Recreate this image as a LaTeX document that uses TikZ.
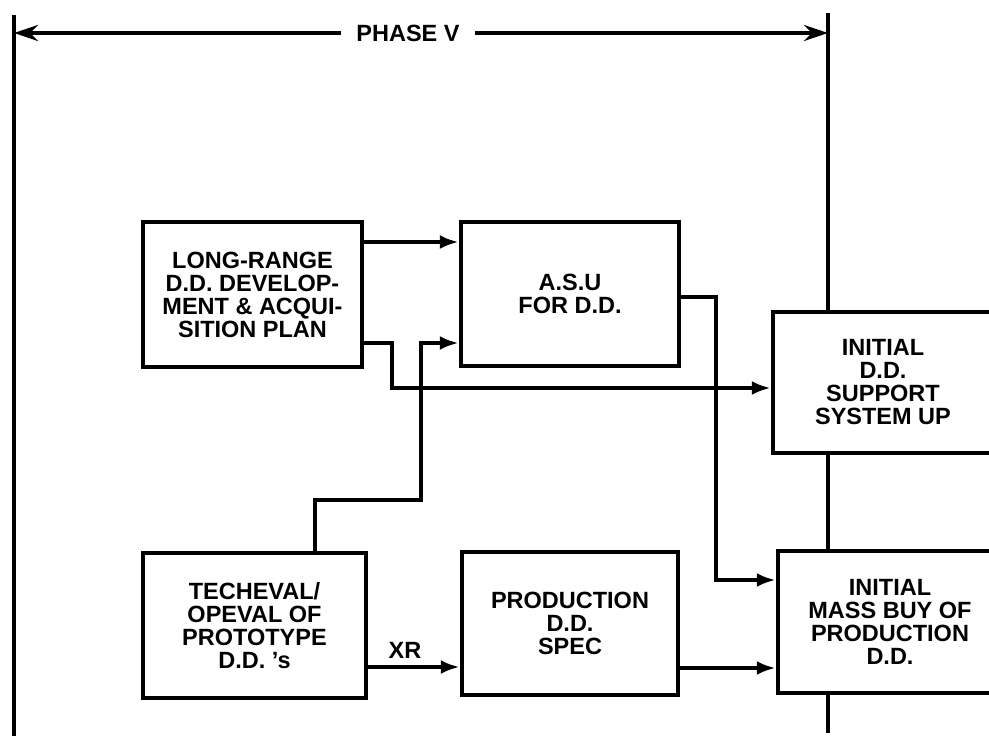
\documentclass[tikz,border=0pt]{standalone}
\usepackage{fontspec}
\setmainfont{Liberation Sans}
\usetikzlibrary{arrows.meta}
\begin{document}
\begin{tikzpicture}[x=1pt,y=-1pt,
  box/.style={draw, line width=4.5pt, fill=white, align=center, inner sep=0pt,
    font=\fontsize{23.5}{23}\selectfont\bfseries},
  lbl/.style={inner sep=0pt, font=\fontsize{23.5}{23}\selectfont\bfseries},
  conn/.style={line width=4.5pt, line join=miter},
  arr/.style={conn, -{Latex[length=19pt,width=14pt]}},
  parr/.style={line width=4pt, -{Stealth[length=24pt,width=16pt]}},
  bar/.style={line width=4.5pt}
]
\useasboundingbox (0,0) rectangle (989,736);
\clip (0,0) rectangle (989,736);

% phase boundaries
\coordinate (ltop) at (14,15);
\coordinate (lbot) at (14,740);
\coordinate (rtop) at (828,13);
\coordinate (rbot) at (828,733);
\draw[bar] (ltop) -- (lbot);
\draw[bar] (rtop) -- (rbot);

\node[lbl, inner xsep=15pt] (phase) at (408,33) {PHASE V};
\draw[parr] (phase.west) -- (ltop |- phase.west);
\draw[parr] (phase.east) -- (rtop |- phase.east);

% boxes
\node[box, minimum width=219pt, minimum height=145pt] (lr) at (252.5,294.5)
  {LONG-RANGE\\D.D. DEVELOP-\\MENT \& ACQUI-\\SITION PLAN};
\node[box, minimum width=218pt, minimum height=144pt] (asu) at (570,294)
  {A.S.U\\FOR D.D.};
\node[box, minimum width=220pt, minimum height=141pt] (sup) at (883,382.5)
  {INITIAL\\D.D.\\SUPPORT\\SYSTEM UP};
\node[box, minimum width=223pt, minimum height=145pt] (tech) at (254.5,625.5)
  {TECHEVAL/\\OPEVAL OF\\PROTOTYPE\\D.D. ’s};
\node[box, minimum width=216pt, minimum height=143pt] (prod) at (570,623.5)
  {PRODUCTION\\D.D.\\SPEC};
\node[box, minimum width=224pt, minimum height=142pt] (mass) at (890,622)
  {INITIAL\\MASS BUY OF\\PRODUCTION\\D.D.};

% connectors
\draw[arr] (lr.east |- 0,242) -- (asu.west |- 0,242);
\draw[arr] (lr.east |- 0,343) -- (392,343) -- (392,388) -- (sup.west |- 0,388);
\draw[arr] (tech.north -| 315,0) -- (315,500) -- (421,500) -- (421,343) -- (asu.west |- 0,343);
\draw[arr] (asu.east |- 0,297) -- (716,297) -- (716,580) -- (mass.west |- 0,580);
\draw[arr] (prod.east |- 0,668) -- (mass.west |- 0,668);
\draw[arr] (tech.east |- 0,667) -- (prod.west |- 0,667);
\node[lbl] (xr) at (405,650) {XR};
\end{tikzpicture}
\end{document}
